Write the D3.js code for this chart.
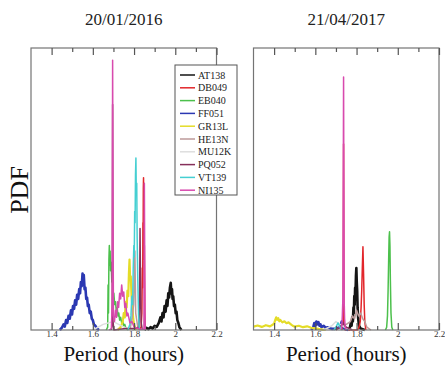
<!DOCTYPE html>
<html>
<head>
<meta charset="utf-8">
<script src="https://cdn.jsdelivr.net/npm/d3@7"></script>
<style>
  body { margin: 0; background: #fff; }
  svg { display: block; font-family: "Liberation Serif", "DejaVu Serif", serif; }
</style>
</head>
<body>
<svg id="chart" width="445" height="366"></svg>
<script>
// series names and colours (legend order = draw order)
const seriesNames = ["AT138", "DB049", "EB040", "FF051", "GR13L", "HE13N", "MU12K", "PQ052", "VT139", "NI135"];
const seriesColors = ["#151515", "#e2262b", "#4cc04c", "#2b38b2", "#e4dc28", "#bc9a9a", "#dedede", "#86305a", "#45cfd2", "#d84aae"];

const panelTitles = ["20/01/2016", "21/04/2017"];
const majorTicks = [1.4, 1.6, 1.8, 2.0, 2.2];
const majorTickLabels = ["1.4", "1.6", "1.8", "2", "2.2"];
const minorTicks = [1.5, 1.7, 1.9, 2.1];

// ---- 20/01/2016 : [period, pdf] ----
const at138_2016 = [[1.850,0],[1.860,0.8],[1.870,0.3],[1.880,1],[1.890,0.5],[1.900,1.5],[1.910,1.1],[1.920,2.5],[1.928,4.5],[1.933,3],[1.938,6],[1.943,4.5],[1.948,8.5],[1.953,6.5],[1.958,10.5],[1.962,8.5],[1.966,13],[1.970,11.5],[1.974,15],[1.978,16.7],[1.981,13],[1.984,14.5],[1.987,11],[1.990,12],[1.994,8.5],[1.998,9],[2.002,6],[2.006,6.5],[2.010,3.5],[2.015,2.5],[2.020,1],[2.030,0]];
const db049_2016 = [[1.825,0],[1.834,1],[1.838,6],[1.840,22],[1.842,15],[1.843,38],[1.844,30],[1.845,50],[1.846,54],[1.847,42],[1.848,47],[1.849,25],[1.850,30],[1.852,6],[1.855,0]];
const eb040_2016 = [[1.665,0],[1.672,1],[1.674,16],[1.676,6],[1.678,25],[1.680,30],[1.682,23],[1.684,28],[1.686,21],[1.689,24],[1.692,17],[1.695,19],[1.698,12],[1.702,13],[1.706,9],[1.710,10],[1.714,6.5],[1.718,8],[1.722,5],[1.726,6],[1.730,3.5],[1.735,4.5],[1.740,2.5],[1.745,3],[1.750,1.5],[1.755,2],[1.760,0.8],[1.770,0]];
const ff051_2016 = [[1.440,0],[1.450,0.8],[1.458,2],[1.464,1.2],[1.470,3.5],[1.476,2.5],[1.482,5],[1.488,4],[1.494,7],[1.499,5.5],[1.504,8.5],[1.509,7.5],[1.514,10.5],[1.519,9],[1.524,12.5],[1.529,11],[1.534,14.5],[1.538,13],[1.542,17],[1.546,15.5],[1.550,20],[1.553,17.5],[1.556,19.5],[1.560,14.5],[1.564,15],[1.568,11],[1.572,11.5],[1.576,8.5],[1.580,9],[1.585,6],[1.590,6.5],[1.595,4],[1.600,3.5],[1.605,2],[1.612,1.5],[1.620,0.5],[1.630,0]];
const gr13l_2016 = [[1.720,0],[1.735,1],[1.745,3],[1.750,6],[1.755,4.5],[1.760,10],[1.764,8],[1.768,14],[1.772,12],[1.775,20],[1.778,25],[1.781,18],[1.784,19],[1.788,12],[1.792,8],[1.796,4],[1.800,2],[1.810,0]];
const he13n_2016 = [[1.780,0],[1.790,4],[1.798,9],[1.804,28],[1.808,6],[1.820,0]];
const mu12k_2016 = [[1.600,0],[1.650,2],[1.700,3],[1.750,1],[1.800,0]];
const pq052_2016 = [[1.690,0],[1.694,2],[1.696,80],[1.698,3],[1.702,0],[1.760,0.5],[1.800,0.5],[1.824,1],[1.827,12],[1.829,36],[1.831,20],[1.834,3],[1.840,0]];
const vt139_2016 = [[1.770,0],[1.780,2],[1.785,5],[1.789,12],[1.793,9],[1.796,22],[1.799,30],[1.801,26],[1.803,42],[1.805,38],[1.807,55],[1.809,61],[1.811,48],[1.813,52],[1.815,33],[1.818,18],[1.822,5],[1.826,0]];
const ni135_2016 = [[1.680,0],[1.690,0.5],[1.694,10],[1.696,95.7],[1.698,40],[1.700,5],[1.705,3],[1.710,7],[1.715,4.5],[1.720,10],[1.725,8],[1.730,13],[1.735,11],[1.740,16],[1.745,12],[1.750,13.5],[1.755,8],[1.760,9.5],[1.765,5],[1.770,6],[1.780,2.5],[1.790,3],[1.800,1],[1.810,0.8],[1.830,0.3],[1.848,0.3],[1.850,52],[1.852,20],[1.854,0]];

// ---- 21/04/2017 : [period, pdf] ----
const at138_2017 = [[1.760,0],[1.768,1],[1.772,2.5],[1.776,1.5],[1.779,4.5],[1.782,3],[1.785,8],[1.787,6],[1.789,12],[1.791,9],[1.793,15],[1.795,13],[1.797,19],[1.799,22],[1.801,17],[1.803,14],[1.805,8],[1.808,4],[1.812,1.5],[1.820,0.5],[1.840,0]];
const db049_2017 = [[1.730,0],[1.735,2],[1.737,66],[1.739,2],[1.745,0],[1.805,0],[1.812,1],[1.818,3],[1.822,8],[1.825,14],[1.828,22],[1.831,29.5],[1.834,20],[1.837,9],[1.840,3],[1.845,0]];
const eb040_2017 = [[1.940,0],[1.946,1],[1.950,5],[1.953,14],[1.956,26],[1.958,33],[1.960,34.8],[1.962,30],[1.964,18],[1.967,6],[1.971,1],[1.976,0]];
const ff051_2017 = [[1.580,0],[1.590,1],[1.595,2.5],[1.600,1.5],[1.605,3],[1.610,2],[1.615,2.8],[1.620,1.5],[1.625,2],[1.630,1],[1.640,1.5],[1.650,0.8],[1.660,1],[1.680,0.4],[1.700,0.5],[1.720,1],[1.728,3],[1.732,2],[1.740,0.5],[1.760,0]];
const gr13l_2017 = [[1.300,1.2],[1.320,1.6],[1.340,1.1],[1.360,1.7],[1.380,1.3],[1.400,2.2],[1.405,3.5],[1.410,4.5],[1.415,3.6],[1.420,4.2],[1.425,3.1],[1.430,3.6],[1.440,2.7],[1.450,3.1],[1.460,2.4],[1.470,2.7],[1.480,2.1],[1.490,1.5],[1.500,1.2],[1.520,1.5],[1.540,1],[1.560,1.3],[1.580,0.8],[1.600,0.6],[1.620,0.3],[1.650,0]];
const he13n_2017 = [[1.700,0],[1.720,1],[1.750,2],[1.770,3],[1.780,5],[1.790,4],[1.800,7],[1.810,5],[1.820,6],[1.830,4],[1.840,3],[1.850,1],[1.870,0]];
const mu12k_2017 = [[1.640,0],[1.680,1.5],[1.700,3],[1.720,2],[1.740,1],[1.780,0]];
const pq052_2017 = [[1.700,0],[1.720,1],[1.735,2.5],[1.750,1],[1.780,0]];
const vt139_2017 = [[1.690,0],[1.700,1],[1.710,2.5],[1.720,1],[1.730,0]];
const ni135_2017 = [[1.726,0],[1.729,2],[1.731,5],[1.734,12],[1.736,60],[1.737,89.7],[1.738,60],[1.740,10],[1.742,4],[1.745,1],[1.750,0]];

const panelSeries = [
  [at138_2016, db049_2016, eb040_2016, ff051_2016, gr13l_2016, he13n_2016, mu12k_2016, pq052_2016, vt139_2016, ni135_2016],
  [at138_2017, db049_2017, eb040_2017, ff051_2017, gr13l_2017, he13n_2017, mu12k_2017, pq052_2017, vt139_2017, ni135_2017]
];

const svg = d3.select("#chart");
const panelLeft = [31, 253.5];
const panelWidth = 185.5;
const plotTop = 48, plotBottom = 330;
const frameColor = "#747474";

const y = d3.scaleLinear().domain([0, 100]).range([plotBottom, plotTop]);

panelSeries.forEach((seriesList, p) => {
  const x = d3.scaleLinear().domain([1.3, 2.2]).range([panelLeft[p], panelLeft[p] + panelWidth]);
  const g = svg.append("g");
  const cx = panelLeft[p] + panelWidth / 2;

  const line = d3.line().x(d => x(d[0])).y(d => y(d[1]));

  g.append("g")
    .attr("fill", "none")
    .selectAll("path")
    .data(seriesList)
    .join("path")
      .attr("d", line)
      .attr("stroke", (d, i) => seriesColors[i])
      .attr("stroke-width", (d, i) => (i === 0 || i === 3) ? 2.6 : (i === 4 ? 2.2 : 1.5))
      .attr("stroke-linejoin", "round");

  // frame
  g.append("rect")
    .attr("x", panelLeft[p]).attr("y", plotTop)
    .attr("width", panelWidth).attr("height", plotBottom - plotTop)
    .attr("fill", "none").attr("stroke", frameColor).attr("stroke-width", 1.2);

  // inward ticks, bottom and top
  const bottomMajor = g.append("g").attr("transform", `translate(0,${plotBottom})`)
    .call(d3.axisBottom(x).tickValues(majorTicks).tickSize(-7).tickPadding(1)
      .tickFormat((d, i) => majorTickLabels[i]));
  g.append("g").attr("transform", `translate(0,${plotBottom})`)
    .call(d3.axisBottom(x).tickValues(minorTicks).tickSize(-4).tickFormat(""));
  g.append("g").attr("transform", `translate(0,${plotTop})`)
    .call(d3.axisTop(x).tickValues(majorTicks).tickSize(-7).tickFormat(""));
  g.append("g").attr("transform", `translate(0,${plotTop})`)
    .call(d3.axisTop(x).tickValues(minorTicks).tickSize(-4).tickFormat(""));
  g.selectAll(".domain").remove();
  g.selectAll(".tick line").attr("stroke", "#555").attr("stroke-width", 1.2);
  bottomMajor.selectAll("text")
    .attr("font-family", "Liberation Serif, serif").attr("font-size", 9).attr("fill", "#333");

  // title and x label
  g.append("text").attr("x", cx).attr("y", 25).attr("text-anchor", "middle")
    .attr("font-size", 17).attr("fill", "#222").text(panelTitles[p]);
  g.append("text").attr("x", cx).attr("y", 361).attr("text-anchor", "middle")
    .attr("font-size", 21).attr("fill", "#111").text("Period (hours)");
});

svg.append("text")
  .attr("transform", "translate(28,190) rotate(-90)")
  .attr("text-anchor", "middle").attr("font-size", 26).attr("fill", "#111")
  .text("PDF");

// legend
const legend = svg.append("g");
legend.append("rect").attr("x", 175).attr("y", 65).attr("width", 62).attr("height", 130)
  .attr("fill", "#fff").attr("stroke", "#555").attr("stroke-width", 1);
const rows = legend.selectAll("g.row").data(seriesNames).join("g")
  .attr("transform", (d, i) => `translate(0,${75 + i * 12.8})`);
rows.append("line").attr("x1", 180).attr("x2", 195)
  .attr("stroke", (d, i) => seriesColors[i]).attr("stroke-width", 1.5);
rows.append("text").attr("x", 198).attr("y", 3.5).attr("font-size", 10).attr("fill", "#222")
  .text(d => d);
</script>
</body>
</html>
